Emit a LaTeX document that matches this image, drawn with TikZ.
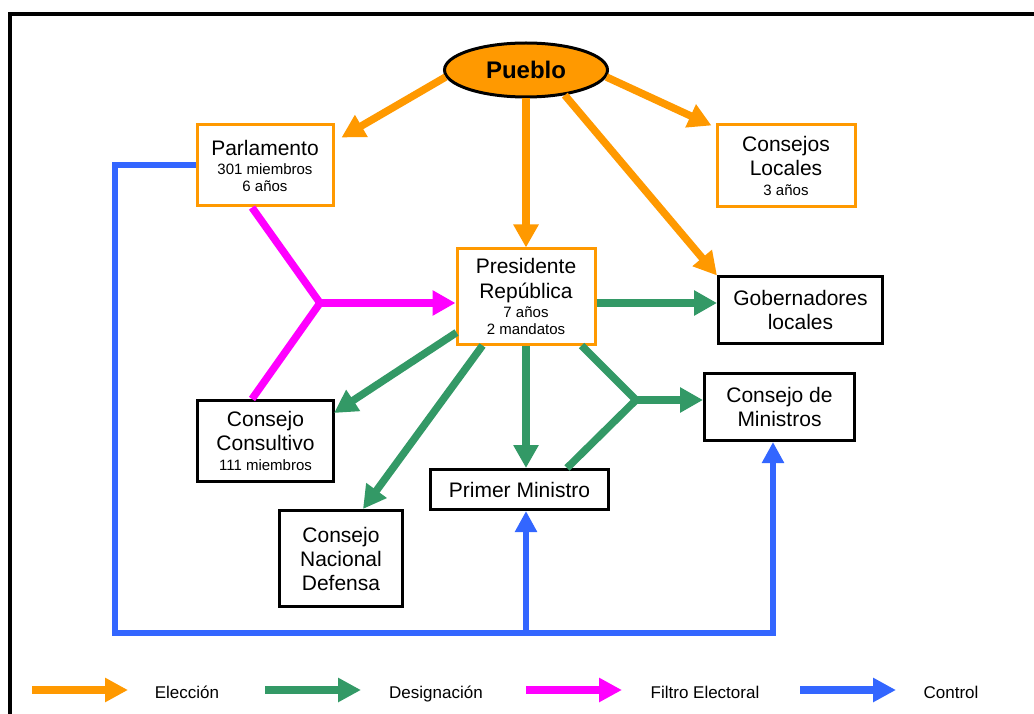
\documentclass[tikz,border=0pt]{standalone}
\usepackage{fontspec}
\setmainfont{Liberation Sans}
\usetikzlibrary{arrows.meta,calc,shapes.geometric}
\definecolor{elec}{HTML}{FF9900}
\definecolor{desig}{HTML}{339966}
\definecolor{filtro}{HTML}{FF00FF}
\definecolor{ctrl}{HTML}{3366FF}
\newcommand\smalltxt{\fontsize{15}{17}\selectfont}
\begin{document}
\begin{tikzpicture}[x=1pt,y=-1pt,
  obox/.style={draw=elec, line width=3pt, fill=white, align=center, inner sep=0pt,
    font=\fontsize{21}{24}\selectfont},
  kbox/.style={draw=black, line width=3pt, fill=white, align=center, inner sep=0pt,
    font=\fontsize{21}{24}\selectfont},
  elecarrow/.style={draw=elec, line width=7.5pt, -{Triangle[length=23pt,width=24pt]}},
  desigarrow/.style={draw=desig, line width=7.5pt, -{Triangle[length=23pt,width=24pt]}},
  desigline/.style={draw=desig, line width=7.5pt},
  filtroarrow/.style={draw=filtro, line width=7.5pt, -{Triangle[length=23pt,width=24pt]}},
  filtroline/.style={draw=filtro, line width=7.5pt},
  ctrlarrow/.style={draw=ctrl, line width=6pt, -{Triangle[length=21pt,width=21pt]}},
  legarrow/.style={line width=8pt, -{Triangle[length=23pt,width=23pt]}},
  legtext/.style={font=\fontsize{17}{20}\selectfont, inner sep=0pt, anchor=base}
]
\useasboundingbox (0,0) rectangle (1034,714);
% outer frame, running off the right and bottom edges
\begin{scope}
  \clip (0,0) rectangle (1034,714);
  \draw[line width=3.5pt] (10,14) rectangle (1060,740);
\end{scope}

% nodes
\node[ellipse, draw=black, line width=3pt, fill=elec, minimum width=163pt, minimum height=54pt,
  inner sep=0pt, font=\bfseries\fontsize{24}{28}\selectfont] (pueblo) at (526,70) {Pueblo};
\node[obox, minimum width=136pt, minimum height=81pt] (parl) at (265,165.5)
  {Parlamento\\[-5pt]\smalltxt 301 miembros\\[-7pt]\smalltxt 6 años};
\node[obox, minimum width=138pt, minimum height=82pt] (loc) at (786,166)
  {Consejos\\Locales\\[-4pt]\smalltxt 3 años};
\node[obox, minimum width=138pt, minimum height=95pt] (pres) at (526,296.5)
  {Presidente\\[1pt]República\\[-5pt]\smalltxt 7 años\\[-7pt]\smalltxt 2 mandatos};
\node[kbox, minimum width=164pt, minimum height=66pt] (gob) at (800.5,310)
  {Gobernadores\\locales};
\node[kbox, minimum width=136pt, minimum height=81pt] (cons) at (265.5,441)
  {Consejo\\Consultivo\\[-4pt]\smalltxt 111 miembros};
\node[kbox, minimum width=123pt, minimum height=96pt] (cnd) at (341,558.5)
  {Consejo\\Nacional\\Defensa};
\node[kbox, minimum width=178pt, minimum height=40pt] (pm) at (519.5,489.5)
  {Primer Ministro};
\node[kbox, minimum width=150pt, minimum height=67pt] (cm) at (779.5,407)
  {Consejo de\\Ministros};

% election
\draw[elecarrow] (pueblo.185) -- ($(parl.north east)+(7,14)$);
\draw[elecarrow] (pueblo.-5) -- ($(loc.north west)+(-4,2)$);
\draw[elecarrow] (pueblo.south) -- (pres.north);
\draw[elecarrow] (pueblo.-33) -- (gob.north west);

% designation
\draw[desigarrow] ($(pres.east)+(0,6.5)$) -- ($(gob.west)+(0,-7)$);
\draw[desigarrow] ($(pres.south west)+(1,-13)$) -- ($(cons.north east)+(-1,14)$);
\draw[desigarrow] ($(pres.south west)+(27,0)$) -- ($(cnd.north)+(22,0)$);
\draw[desigarrow] (pres.south) -- (pres.south |- pm.north);
\coordinate (fork) at (636,400);
\draw[desigline] ($(pres.south east)+(-15,0)$) -- (fork);
\draw[desigline] ($(pm.north east)+(-43,0)$) -- (fork);
\draw[desigarrow] (fork) -- (fork -| cm.west);

% electoral filter
\coordinate (filt) at (320,303);
\draw[filtroline] ($(parl.south)+(-13,0)$) -- (filt);
\draw[filtroline] ($(cons.north)+(-13.5,0)$) -- (filt);
\draw[filtroarrow] (filt) -- (filt -| pres.west);

% control
\coordinate (ctl) at (115,633);
\coordinate (cmin) at ($(cm.south)+(-6.5,0)$);
\coordinate (ctr) at (cmin |- ctl);
\draw[ctrlarrow] (parl.west) -| (ctl) -- (ctr) -- (cmin);
\draw[ctrlarrow] (pres.south |- ctl) -- (pres.south |- pm.south);

% legend
\coordinate (l1a) at (32,690);  \coordinate (l1b) at (128,690);
\coordinate (l2a) at (265,690); \coordinate (l2b) at (361,690);
\coordinate (l3a) at (526,690); \coordinate (l3b) at (622,690);
\coordinate (l4a) at (800,690); \coordinate (l4b) at (896,690);
\draw[legarrow, elec] (l1a) -- (l1b);
\draw[legarrow, desig] (l2a) -- (l2b);
\draw[legarrow, filtro] (l3a) -- (l3b);
\draw[legarrow, ctrl] (l4a) -- (l4b);
\node[legtext] (t1) at (187,698) {Elección};
\node[legtext] (t2) at (436,698) {Designación};
\node[legtext] (t3) at (705,698) {Filtro Electoral};
\node[legtext] (t4) at (951,698) {Control};
\end{tikzpicture}
\end{document}
